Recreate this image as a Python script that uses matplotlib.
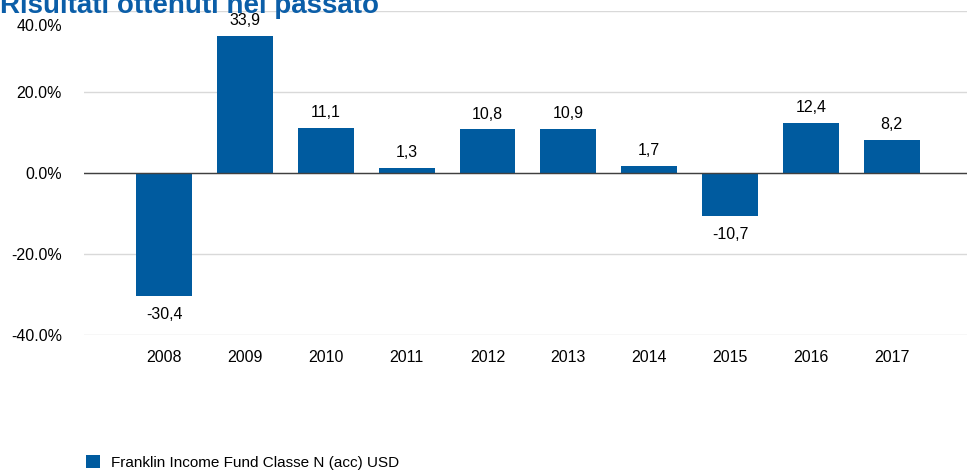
import matplotlib
matplotlib.use('Agg')
import matplotlib.pyplot as plt
import matplotlib.transforms as mtransforms
from matplotlib.ticker import FuncFormatter

plt.rcParams['font.family'] = ['Liberation Sans', 'DejaVu Sans']

# data
years = ['2008', '2009', '2010', '2011', '2012', '2013', '2014', '2015', '2016', '2017']
returns = [-30.4, 33.9, 11.1, 1.3, 10.8, 10.9, 1.7, -10.7, 12.4, 8.2]
series_name = 'Franklin Income Fund Classe N (acc) USD'

bar_color = '#005b9f'

fig = plt.figure(figsize=(9.67, 4.73), dpi=100)
ax = fig.add_axes([0.0869, 0.2918, 0.9131, 0.6849])

x = list(range(len(years)))
ax.bar(x, returns, width=0.69, color=bar_color, zorder=3, label=series_name)

for xi, v in zip(x, returns):
    lab = ('%.1f' % v).replace('.', ',')
    if v >= 0:
        ax.annotate(lab, (xi, v), xytext=(0, 5.5), textcoords='offset points',
                    ha='center', va='bottom', fontsize=11.5)
    else:
        ax.annotate(lab, (xi, v), xytext=(0, -7.5), textcoords='offset points',
                    ha='center', va='top', fontsize=11.5)

ax.set_ylim(-40, 40)
ax.set_xlim(-0.99, 9.93)
ax.set_yticks([-40, -20, 0, 20, 40])
ax.yaxis.set_major_formatter(FuncFormatter(lambda v, p: '%.1f%%' % v))
ax.set_xticks(x)
ax.set_xticklabels(years)
ax.tick_params(axis='both', length=0, labelsize=11.5)
ax.tick_params(axis='y', pad=16)
ax.tick_params(axis='x', pad=11)

# top label sits lower, under the title
top_lab = ax.get_yticklabels()[-1]
top_lab.set_transform(top_lab.get_transform() +
                      mtransforms.ScaledTranslation(0, -14 / 100, fig.dpi_scale_trans))

for s in ax.spines.values():
    s.set_visible(False)
ax.grid(axis='y', color='#d9d9d9', linewidth=1, zorder=0)
ax.axhline(0, color='#404040', linewidth=1, zorder=4)

fig.text(0.0, 1 - 13 / 473, 'Risultati ottenuti nel passato', fontsize=20,
         fontweight='bold', color='#0b5ea8', ha='left', va='baseline')

fig.legend(loc='center left', bbox_to_anchor=(0.075, 0.022), frameon=False,
           fontsize=11, handlelength=0.9, handleheight=0.9, handletextpad=0.75)

fig.savefig('out.png', dpi=100)
